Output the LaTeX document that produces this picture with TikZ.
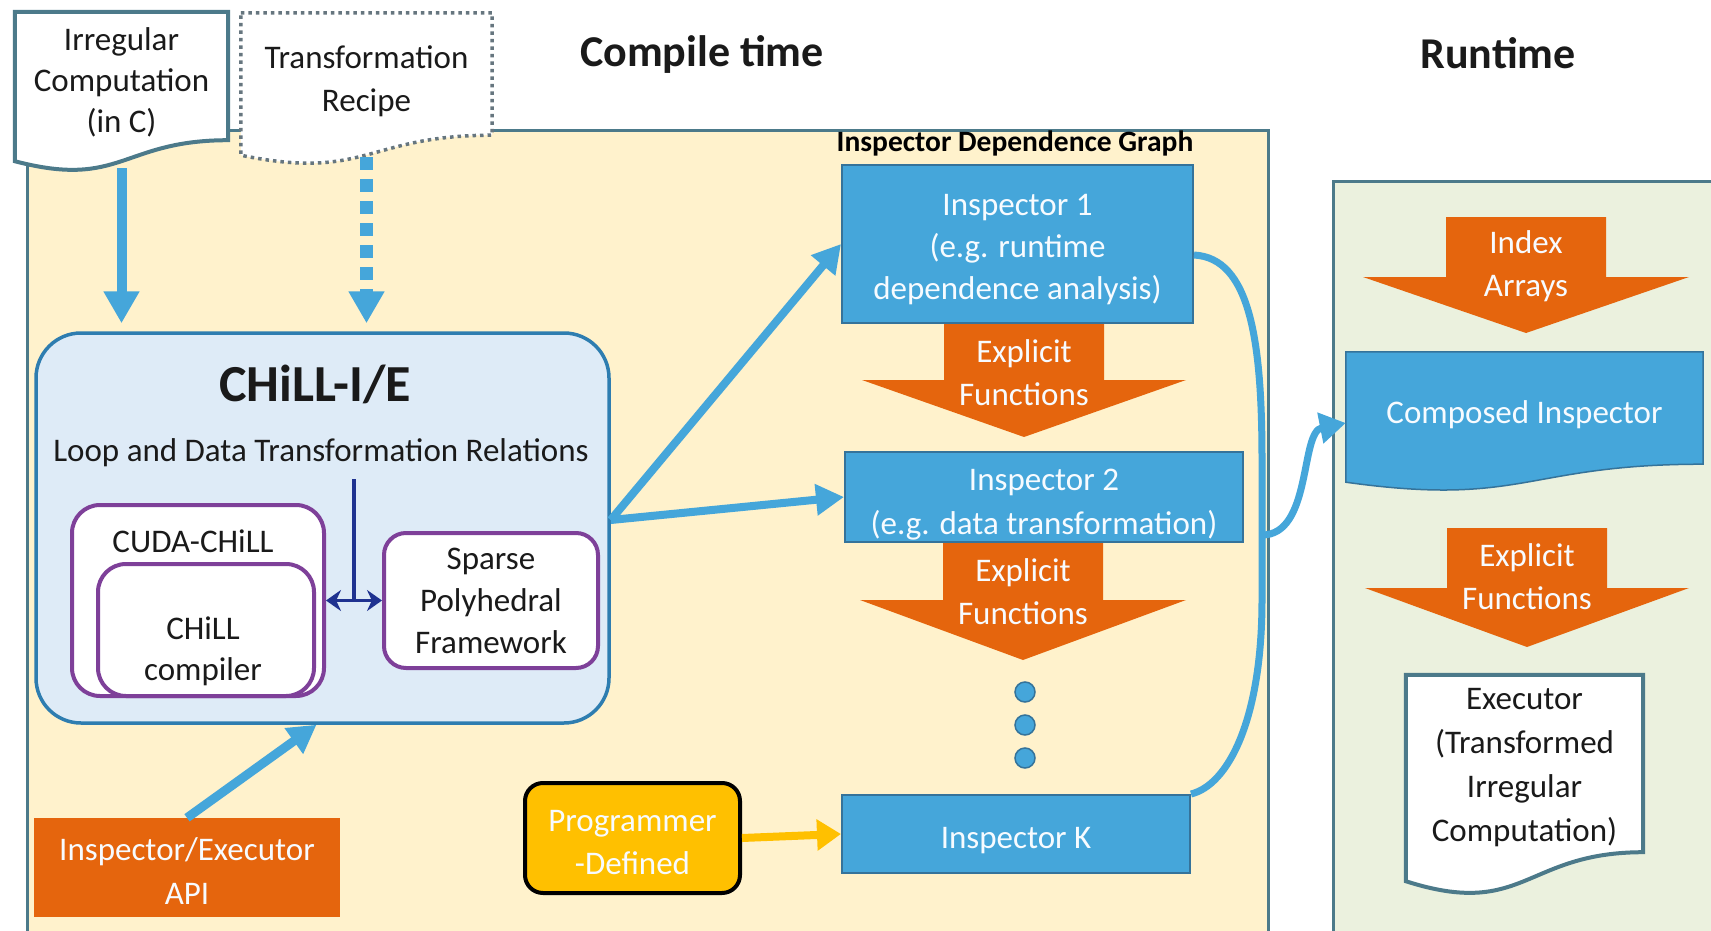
\documentclass[tikz,border=0pt]{standalone}
\usepackage{fontspec}
\setmainfont{Carlito}
\usetikzlibrary{arrows.meta,calc}
\pgfdeclarelayer{bg}
\pgfdeclarelayer{shape}
\pgfsetlayers{bg,shape,main}

\definecolor{cream}{HTML}{FFF2CC}
\definecolor{mint}{HTML}{EBF1DE}
\definecolor{frame}{HTML}{4C7A8A}
\definecolor{skyfill}{HTML}{DEEBF7}
\definecolor{skyline}{HTML}{2E7DB0}
\definecolor{blu}{HTML}{45A6DA}
\definecolor{bluline}{HTML}{35739A}
\definecolor{orng}{HTML}{E5650D}
\definecolor{purp}{HTML}{7E4099}
\definecolor{gold}{HTML}{FFC000}
\definecolor{navy}{HTML}{1F3290}
\definecolor{ink}{HTML}{1A1A1A}
\definecolor{paleink}{HTML}{F7FBFF}
\definecolor{dotgrey}{HTML}{66767F}

\tikzset{
  base/.style={font=\fontsize{33}{41}\selectfont, text=ink, align=center, inner sep=0pt},
  sink/.style={text height=#1},
  titletext/.style={base, font=\fontsize{44}{50}\selectfont\bfseries},
  blubox/.style={base, fill=blu, draw=bluline, line width=2pt, text=paleink},
  purplebox/.style={base, draw=purp, fill=white, line width=4pt},
  onorange/.style={base, text=paleink, font=\fontsize{33}{43}\selectfont},
  dotnode/.style={circle, fill=blu, draw=bluline, line width=1.5pt, minimum size=20pt, inner sep=0pt},
  bluarrow/.style={draw=blu, line width=#1, -{Triangle[length=32pt,width=34pt]}},
  bluarrow/.default=10pt,
  slimarrow/.style={draw=blu, line width=8pt, -{Triangle[length=28pt,width=30pt]}},
}

% document shape with a wavy lower edge, hung under a node
\newcommand\wavedoc[4]{%
  \begin{pgfonlayer}{shape}
    \path[#4] (#1.north west) -- (#1.north east) -- (#1.south east)
      .. controls (#1.south) and ($(#1.south)+(0,#3)$) .. ($(#1.south west)+(0,#2)$) -- cycle;
  \end{pgfonlayer}}

% broad orange block arrow pointing down: x, top, wings, tip, shaft half, head half
\newcommand\blockarrow[6]{%
  \begin{pgfonlayer}{shape}
    \fill[orng] ({#1-#5},#2) -- ({#1+#5},#2) -- ({#1+#5},#3) -- ({#1+#6},#3)
      -- (#1,#4) -- ({#1-#6},#3) -- ({#1-#5},#3) -- cycle;
  \end{pgfonlayer}}

\begin{document}
\begin{tikzpicture}[x=1pt,y=-1pt]
\path[use as bounding box] (0,0) rectangle (1711,931);

% stage panels
\begin{pgfonlayer}{bg}
  \fill[white] (0,0) rectangle (1711,931);
  \filldraw[fill=cream, draw=frame, line width=3pt] (27,131) rectangle (1268,960);
  \filldraw[fill=mint, draw=frame, line width=3pt] (1333,181) rectangle (1760,960);
\end{pgfonlayer}

\node[titletext] (ct) at (702,54) {Compile time};
\node[titletext] (rt) at (1498,53) {Runtime};
\node[base, font=\fontsize{29.5}{32}\selectfont\bfseries, text=black] (idg) at (1015,143) {Inspector Dependence Graph};

% inputs
\node[base, sink=117pt, font=\fontsize{33}{41}\selectfont, minimum width=213pt, minimum height=128pt] (irr) at (121.5,76) {Irregular\\Computation\\(in C)};
\wavedoc{irr}{21}{49}{fill=white, draw=frame, line width=4pt}
\node[base, sink=80pt, font=\fontsize{33}{43}\selectfont, minimum width=251pt, minimum height=122pt] (rec) at (366.5,74) {Transformation\\Recipe};
\wavedoc{rec}{20}{46}{fill=white, draw=dotgrey, line width=3.5pt, dash pattern=on 3.5pt off 4pt}

% CHiLL-I/E
\node[draw=skyline, fill=skyfill, line width=3.5pt, rounded corners=45pt, minimum width=573pt, minimum height=390pt, inner sep=0pt] (chill) at (322.5,528) {};
\node[base, font=\fontsize{52}{56}\selectfont\bfseries] (chilltitle) at (315,384) {CHiLL-I/E};
\node[base] (rel) at (321,453) {Loop and Data Transformation Relations};
\node[purplebox, minimum width=252pt, minimum height=191pt, rounded corners=28pt] (cuda) at (198,600.5) {};
\node[base] (cudat) at (193,541) {CUDA-CHiLL};
\node[purplebox, minimum width=216pt, minimum height=132pt, rounded corners=28pt] (chillc) at (206,630) {};
\node[base] (chillt) at (203,651) {CHiLL\\compiler};
\node[purplebox, font=\fontsize{33}{42}\selectfont, minimum width=214pt, minimum height=135pt, rounded corners=22pt] (sparse) at (491,600.5) {Sparse\\Polyhedral\\Framework};

\coordinate (mid) at ($(cuda.east)!0.5!(sparse.west)$);
\draw[navy, line width=3.5pt, shorten <=12pt] (mid |- rel.south) -- (mid);
\draw[navy, line width=3.5pt, {Stealth[length=15pt,width=21pt]}-{Stealth[length=15pt,width=21pt]}] (cuda.east) -- (sparse.west |- cuda.east);

\draw[bluarrow, shorten <=28pt] (irr.south) -- ([yshift=8pt]irr.south |- chill.north);
\draw[bluarrow=13pt, dash pattern=on 13pt off 9pt, shorten <=22pt] (rec.south) -- ([yshift=8pt]rec.south |- chill.north);

% inspectors
\node[blubox, sink=116pt, font=\fontsize{33}{42}\selectfont, minimum width=351pt, minimum height=158pt] (insp1) at (1017.5,244) {Inspector 1\\(e.g. runtime\\dependence analysis)};
\blockarrow{1024}{322}{380}{437}{80}{162}
\node[onorange] (ef1) at (1024,372.5) {Explicit\\Functions};
\node[blubox, sink=80pt, font=\fontsize{33}{44}\selectfont, minimum width=398pt, minimum height=90pt] (insp2) at (1044,497) {Inspector 2\\(e.g. data transformation)};
\blockarrow{1023}{542}{600}{660}{80}{163}
\node[onorange] (ef2) at (1023,591.5) {Explicit\\Functions};
\node[dotnode] (d1) at (1025,692) {};
\node[dotnode] (d2) at (1025,725) {};
\node[dotnode] (d3) at (1025,758) {};
\node[blubox, sink=35pt, minimum width=348pt, minimum height=78pt] (inspK) at (1016,834) {Inspector K};

% runtime
\blockarrow{1526}{217}{277}{333}{80}{163}
\node[onorange] (ia) at (1526,266.5) {Index\\Arrays};
\node[base, sink=36pt, text=paleink, minimum width=357pt, minimum height=112pt] (comp) at (1524.5,408) {Composed Inspector};
\wavedoc{comp}{18}{43}{fill=blu, draw=bluline, line width=1.5pt}
\blockarrow{1527}{528}{588}{647}{80}{162}
\node[onorange] (ef3) at (1527,576.5) {Explicit\\Functions};
\node[base, sink=161pt, font=\fontsize{33}{44}\selectfont, minimum width=237pt, minimum height=177pt] (exec) at (1524.5,763.5) {Executor\\(Transformed\\Irregular\\Computation)};
\wavedoc{exec}{29}{67}{fill=white, draw=frame, line width=4pt}

% API and programmer input
\node[base, sink=74pt, font=\fontsize{33}{44}\selectfont, fill=orng, text=paleink, minimum width=306pt, minimum height=99pt] (api) at (187,867.5) {Inspector/Executor\\API};
\node[base, sink=74pt, font=\fontsize{33}{43}\selectfont, fill=gold, draw=black, line width=4pt, rounded corners=18pt, text=paleink, minimum width=215pt, minimum height=110pt] (prog) at (632.5,838) {Programmer\\-Defined};

% connectors
\draw[slimarrow] ([yshift=8pt]chill.east) -- (insp1.west);
\draw[slimarrow] ([yshift=8pt]chill.east) -- (insp2.west);
\draw[slimarrow, line width=9pt] (api.north) -- ([xshift=-6pt]chill.south);
\draw[gold, line width=8pt, -{Triangle[length=24pt,width=30pt]}] (prog.east) -- (inspK.west);

\draw[blu, line width=7pt] ([yshift=-11pt]insp1.east) .. controls (1250,258) and (1262,340) .. (1262,460)
  -- (1262,600) .. controls (1262,720) and (1228,785) .. (inspK.north east);
\coordinate (jn) at (1262,535);
\draw[blu, line width=7pt, -{Triangle[length=26pt,width=30pt]}] (jn) .. controls (1312,535) and (1300,432) .. ([yshift=-15pt]comp.west);
\end{tikzpicture}
\end{document}
